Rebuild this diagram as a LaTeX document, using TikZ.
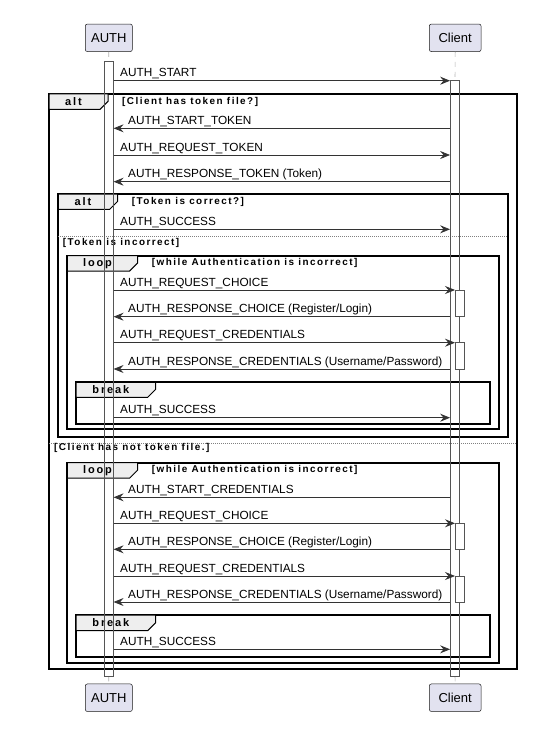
\documentclass[tikz,border=0pt]{standalone}
\usepackage{fontspec}
\setmainfont{Liberation Sans}
\newfontfamily\condfont[LetterSpace=15]{Liberation Sans}
\newfontfamily\tabfont[LetterSpace=17]{Liberation Sans}
\usetikzlibrary{arrows.meta}

\definecolor{partfill}{HTML}{E2E2F0}
\definecolor{linecol}{HTML}{181818}
\definecolor{actcol}{HTML}{555555}
\definecolor{msgcol}{HTML}{333333}
\definecolor{tabfill}{HTML}{EEEEEE}

\begin{document}
\begin{tikzpicture}[x=1pt, y=-1pt,
    part/.style={draw=linecol, fill=partfill, rounded corners=2pt, line width=0.5pt, minimum height=27.5pt, inner sep=0pt, font=\fontsize{13}{15}\selectfont},
    actbar/.style={draw=actcol, line width=0.8pt, minimum width=9pt, inner sep=0pt},
    life/.style={draw=gray!60, line width=0.6pt, dash pattern=on 5pt off 5pt},
    msg/.style={draw=msgcol, line width=0.8pt, -{Stealth[length=10pt, width=8pt, inset=3.5pt]}},
    frame/.style={draw=black, line width=1.7pt},
    tab/.style={draw=black, fill=tabfill, line width=1pt},
    sep/.style={draw=gray, line width=1pt, dash pattern=on 1pt off 1pt},
    txt/.style={anchor=base west, inner sep=0pt, font=\fontsize{11.8}{14}\selectfont},
    cond/.style={anchor=west, inner sep=0pt, font=\fontsize{9.9}{11}\condfont\bfseries},
    tablab/.style={inner sep=0pt, font=\fontsize{11}{12}\tabfont\bfseries}]

    \useasboundingbox (0,0) rectangle (547,749);

    % participants
    \node[part, minimum width=47pt] (authtop) at (108.8,37.8) {AUTH};
    \node[part, minimum width=51.7pt] (clitop) at (455.2,37.8) {Client};
    \node[part, minimum width=47pt] (authbot) at (108.8,697.7) {AUTH};
    \node[part, minimum width=51.7pt] (clibot) at (455.2,697.7) {Client};

    % activations
    \node[actbar, minimum height=614.3pt] (authact) at (108.7,368.85) {};
    \node[actbar, minimum height=595.3pt] (cliact) at (455,378.35) {};

    \draw[life] (authtop.south) -- (authact.north);
    \draw[life] (authact.south) -- (authbot.north);
    \draw[life] (clitop.south) -- (cliact.north);
    \draw[life] (cliact.south) -- (clibot.north);

    % groups
    \foreach \l/\t/\r/\b/\tr/\tb/\lab/\cnd [count=\k] in {
        49/94/517/669.3/108/109.3/alt/{[Client has token file?]},
        58.3/194/508.3/436.7/117.7/209.3/alt/{[Token is correct?]},
        67.3/255.7/499.3/429.3/137.7/271/loop/{[while Authentication is incorrect]},
        76/382.3/490/424/155.7/397.3/break/{},
        67.3/462.7/499.3/663.3/137.7/478/loop/{[while Authentication is incorrect]},
        76/615/490/656.7/155.7/630.7/break/{}} {
        \draw[frame] (\l,\t) rectangle (\r,\b);
        \draw[tab] (\l,\t) -- (\tr,\t) -- (\tr,\tb-8) -- (\tr-8,\tb) -- (\l,\tb) -- cycle;
        \node[tablab] (tab\k) at ({(\l+\tr-10)/2},{(\t+\tb)/2}) {\lab};
        \node[cond] (cond\k) at (\tr+14,{(\t+\tb)/2}) {\cnd};
    }

    \draw[sep] (58.3,236.7) -- (508.3,236.7);
    \node[cond] (else1) at (62.7,242.7) {[Token is incorrect]};
    \draw[sep] (49,443.3) -- (517,443.3);
    \node[cond] (else2) at (54,448.3) {[Client has not token file.]};

    % redraw bars over the tabs
    \node[actbar, minimum height=614.3pt] at (authact) {};
    \node[actbar, minimum height=595.3pt] at (cliact) {};
    \foreach \c/\h [count=\n] in {303/26, 355.85/26.3, 536.3/26, 589/26}
        \node[actbar, fill=white, minimum width=9.3pt, minimum height=\h pt] (nest\n) at (459.7,\c) {};

    % messages
    \foreach \y/\from/\to/\tx/\txt [count=\i] in {
        80.7/authact.east/cliact.west/120/AUTH\_START,
        128.3/cliact.west/authact.east/128/AUTH\_START\_TOKEN,
        155/authact.east/cliact.west/120/AUTH\_REQUEST\_TOKEN,
        181.7/cliact.west/authact.east/128/{AUTH\_RESPONSE\_TOKEN (Token)},
        229.3/authact.east/cliact.west/120/AUTH\_SUCCESS,
        290/authact.east/cliact/120/AUTH\_REQUEST\_CHOICE,
        316.7/cliact.west/authact.east/128/{AUTH\_RESPONSE\_CHOICE (Register/Login)},
        342.7/authact.east/cliact/120/AUTH\_REQUEST\_CREDENTIALS,
        369/cliact.west/authact.east/128/{AUTH\_RESPONSE\_CREDENTIALS (Username/Password)},
        417.7/authact.east/cliact.west/120/AUTH\_SUCCESS,
        497.3/cliact.west/authact.east/128/AUTH\_START\_CREDENTIALS,
        523.3/authact.east/cliact/120/AUTH\_REQUEST\_CHOICE,
        549.3/cliact.west/authact.east/128/{AUTH\_RESPONSE\_CHOICE (Register/Login)},
        576/authact.east/cliact/120/AUTH\_REQUEST\_CREDENTIALS,
        602/cliact.west/authact.east/128/{AUTH\_RESPONSE\_CREDENTIALS (Username/Password)},
        649.3/authact.east/cliact.west/120/AUTH\_SUCCESS} {
        \draw[msg] (\from |- 0,\y) -- (\to |- 0,\y);
        \node[txt] (msg\i) at (\tx,\y-4) {\txt};
    }
\end{tikzpicture}
\end{document}
